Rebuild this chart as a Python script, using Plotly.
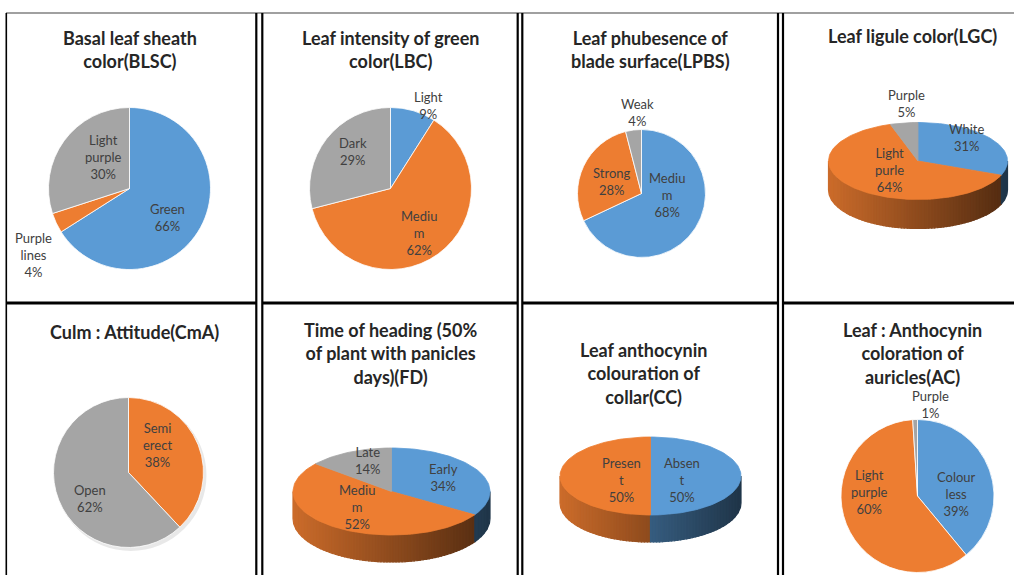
import math
import plotly.graph_objects as go

W, H = 1014, 575

BLUE = "#5B9BD5"
ORANGE = "#ED7D31"
GRAY = "#A5A5A5"

# ---- survey results (percent of accessions per class) ----
blsc_labels = ["Green", "Purple lines", "Light purple"]
blsc_values = [66, 4, 30]

lbc_labels = ["Light", "Medium", "Dark"]
lbc_values = [9, 62, 29]

lpbs_labels = ["Medium", "Strong", "Weak"]
lpbs_values = [68, 28, 4]

lgc_labels = ["White", "Light purle", "Purple"]
lgc_values = [31, 64, 5]

cma_labels = ["Semi erect", "Open"]
cma_values = [38, 62]

fd_labels = ["Early", "Medium", "Late"]
fd_values = [34, 52, 14]

cc_labels = ["Absent", "Present"]
cc_values = [50, 50]

ac_labels = ["Colour less", "Light purple", "Purple"]
ac_values = [39, 60, 1]

# words that break mid-word inside the narrow label boxes
WORD_BREAKS = {"Medium": "Mediu<br>m", "Absent": "Absen<br>t", "Present": "Presen<br>t"}


def label_text(name, value, total):
    shown = WORD_BREAKS.get(name, name.replace(" ", "<br>"))
    return f"{shown}<br>{round(100 * value / total)}%"


# ---- panel layout (pixel space, y downward) ----
panels = [
    dict(title="Basal leaf sheath<br>color(BLSC)", tx=130, ty=49,
         labels=blsc_labels, values=blsc_values, colors=[BLUE, ORANGE, GRAY],
         kind="flat", cx=129.5, cy=188.5, r=81,
         lab=[(0.475, 0.364), (-1.19, 0.82), (-0.327, -0.389)]),
    dict(title="Leaf intensity of green<br>color(LBC)", tx=390.5, ty=49,
         labels=lbc_labels, values=lbc_values, colors=[BLUE, ORANGE, GRAY],
         kind="flat", cx=390.5, cy=188.5, r=81,
         lab=[(0.463, -1.02), (0.352, 0.549), (-0.463, -0.451)]),
    dict(title="Leaf phubesence of<br>blade surface(LPBS)", tx=650.5, ty=49,
         labels=lpbs_labels, values=lpbs_values, colors=[BLUE, ORANGE, GRAY],
         kind="flat", cx=641.5, cy=193.5, r=64,
         lab=[(0.398, 0.023), (-0.461, -0.195), (-0.07, -1.27)]),
    dict(title="Leaf ligule color(LGC)", tx=912, ty=36,
         labels=lgc_labels, values=lgc_values, colors=[BLUE, ORANGE, GRAY],
         kind="tilt", cx=918, cy=161, r=89.5, ry=38.5, depth=29,
         lab=[(0.547, -0.268), (-0.313, 0.10), (-0.123, -0.637)]),
    dict(title="Culm : Attitude(CmA)", tx=134.5, ty=332,
         labels=cma_labels, values=cma_values, colors=[ORANGE, GRAY],
         kind="flat", cx=128.5, cy=472.5, r=75, shadow=True,
         lab=[(0.393, -0.367), (-0.513, 0.353)]),
    dict(title="Time of heading (50%<br>of plant with panicles<br>days)(FD)", tx=390.5, ty=353,
         labels=fd_labels, values=fd_values, colors=[BLUE, ORANGE, GRAY],
         kind="tilt", cx=391.5, cy=491.5, r=98.5, ry=43.5, depth=27,
         lab=[(0.523, -0.147), (-0.35, 0.157), (-0.239, -0.31)]),
    dict(title="Leaf anthocynin<br>colouration of<br>collar(CC)", tx=643, ty=373,
         labels=cc_labels, values=cc_values, colors=[BLUE, ORANGE],
         kind="tilt", cx=650.5, cy=476, r=90.5, ry=39, depth=27,
         lab=[(0.348, 0.044), (-0.315, 0.044)]),
    dict(title="Leaf : Anthocynin<br>coloration of<br>auricles(AC)", tx=912, ty=353,
         labels=ac_labels, values=ac_values, colors=[BLUE, ORANGE, GRAY],
         kind="flat", cx=917.5, cy=496, r=76.5,
         lab=[(0.516, -0.026), (-0.621, -0.052), (0.176, -1.19)]),
]

TITLE_FONT = dict(family="Lato, 'Open Sans', sans-serif", size=18, color="#262626")
LABEL_FONT = dict(family="Lato, 'Open Sans', sans-serif", size=13, color="#404040")


def shade(hex_color, k):
    h = hex_color.lstrip("#")
    r, g, b = (int(h[i:i + 2], 16) for i in (0, 2, 4))
    return "rgb({},{},{})".format(*(max(0, min(255, int(round(c * k)))) for c in (r, g, b)))


def ellipse_arc(cx, cy, rx, ry, a0, a1, step=2.0):
    n = max(2, int(math.ceil(abs(a1 - a0) / step)))
    pts = []
    for k in range(n + 1):
        t = math.radians(a0 + (a1 - a0) * k / n)
        pts.append((cx + rx * math.sin(t), cy - ry * math.cos(t)))
    return pts


fig = go.Figure()


def add_poly(pts, color, lw=0.8):
    xs = [p[0] for p in pts] + [pts[0][0]]
    ys = [p[1] for p in pts] + [pts[0][1]]
    fig.add_trace(go.Scatter(x=xs, y=ys, mode="lines", fill="toself",
                             fillcolor=color, line=dict(color=color, width=lw),
                             hoverinfo="skip", showlegend=False))


def front_angle(cx, rx, x):
    # angle (deg, clockwise from 12 o'clock) on the front half of the rim at screen x
    s = max(-1.0, min(1.0, (x - cx) / rx))
    return 180 - math.degrees(math.asin(s))


annotations = []
shapes = []

for p in panels:
    total = sum(p["values"])
    fracs = [v / total for v in p["values"]]

    if p["kind"] == "flat":
        cx, cy, r = p["cx"], p["cy"], p["r"]
        if p.get("shadow"):
            shapes.append(dict(type="circle", xref="x", yref="y", layer="below",
                               x0=cx - r + 1.5, x1=cx + r + 3, y0=cy - r + 2, y1=cy + r + 3.5,
                               fillcolor="rgba(0,0,0,0.09)", line=dict(width=0)))
        fig.add_trace(go.Pie(
            labels=p["labels"], values=p["values"], sort=False,
            direction="clockwise", rotation=0,
            marker=dict(colors=p["colors"], line=dict(color="white", width=0.8)),
            textinfo="none", hoverinfo="label+percent", showlegend=False,
            domain=dict(x=[(cx - r) / W, (cx + r) / W],
                        y=[1 - (cy + r) / H, 1 - (cy - r) / H]),
        ))
    else:
        cx, cy, rx, ry, d = p["cx"], p["cy"], p["r"], p["ry"], p["depth"]
        r = rx
        edges = [0.0]
        for f in fracs:
            edges.append(edges[-1] + 360 * f)
        # visible rim (front half of the disc), cut into narrow vertical bands
        # so it darkens from left to right
        nband = int(2 * rx / 3)
        for k in range(nband):
            x0 = cx - rx + 2 * rx * k / nband
            x1 = cx - rx + 2 * rx * (k + 1) / nband
            b_hi = front_angle(cx, rx, x0)   # larger angle at the left
            b_lo = front_angle(cx, rx, x1)
            t = ((x0 + x1) / 2 - (cx - rx)) / (2 * rx)
            kf = 0.86 - 0.52 * t
            for col, a0, a1 in zip(p["colors"], edges[:-1], edges[1:]):
                s0, s1 = max(a0, b_lo), min(a1, b_hi)
                if s1 <= s0:
                    continue
                top = ellipse_arc(cx, cy, rx, ry, s0, s1, 1.0)
                bot = ellipse_arc(cx, cy + d, rx, ry, s1, s0, 1.0)
                add_poly(top + bot, shade(col, kf), lw=1.2)
        # top face
        for col, a0, a1 in zip(p["colors"], edges[:-1], edges[1:]):
            add_poly([(cx, cy)] + ellipse_arc(cx, cy, rx, ry, a0, a1), col)

    # data labels
    for name, v, (dx, dy) in zip(p["labels"], p["values"], p["lab"]):
        annotations.append(dict(x=p["cx"] + dx * r, y=p["cy"] + dy * r, xref="x", yref="y",
                                text=label_text(name, v, total), showarrow=False,
                                font=LABEL_FONT, align="center",
                                xanchor="center", yanchor="middle"))
    # panel title
    annotations.append(dict(x=p["tx"], y=p["ty"], xref="x", yref="y",
                            text=f"<b>{p['title']}</b>", showarrow=False,
                            font=TITLE_FONT, align="center",
                            xanchor="center", yanchor="middle"))


# ---- grid frame ----
def seg(x0, y0, x1, y1, color="black", width=2.2):
    shapes.append(dict(type="line", xref="x", yref="y", x0=x0, y0=y0, x1=x1, y1=y1,
                       line=dict(color=color, width=width), layer="above"))


seg(6, 13, W, 13, color="#808080", width=1.6)
seg(6.3, 13, 6.3, H, width=1.6)
for xv in (256.3, 262.3, 517.7, 522.3, 778, 783):
    seg(xv, 13, xv, H, width=2.2)
for xa, xb in ((6, 256.3), (262.3, 517.7), (522.3, 778), (783, W)):
    seg(xa, 303, xb, 303, width=3)

fig.update_layout(
    width=W, height=H,
    margin=dict(l=0, r=0, t=0, b=0),
    paper_bgcolor="white", plot_bgcolor="white",
    xaxis=dict(range=[0, W], visible=False, fixedrange=True, domain=[0, 1]),
    yaxis=dict(range=[H, 0], visible=False, fixedrange=True, domain=[0, 1]),
    annotations=annotations, shapes=shapes,
    showlegend=False,
)

fig.write_html("out.html")
